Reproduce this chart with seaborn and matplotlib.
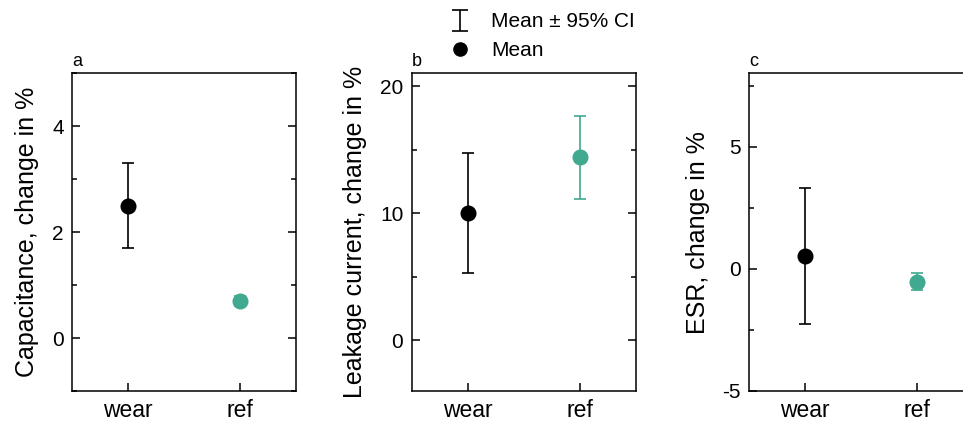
import matplotlib
matplotlib.use("Agg")
import matplotlib.pyplot as plt
import seaborn as sns
import pandas as pd
import numpy as np
from matplotlib.lines import Line2D
from matplotlib.ticker import MultipleLocator

# dados
grupos = ["wear", "ref"]
cap_media = [2.5, 0.7]
cap_lo = [1.7, 0.6]
cap_hi = [3.3, 0.8]
leak_media = [10.0, 14.4]
leak_lo = [5.3, 11.1]
leak_hi = [14.75, 17.65]
esr_media = [0.53, -0.53]
esr_lo = [-2.24, -0.85]
esr_hi = [3.29, -0.18]

cores = {"wear": "#000000", "ref": "#40a98f"}

sns.set_theme(style="ticks")
plt.rcParams["font.family"] = ["Liberation Sans", "DejaVu Sans"]
plt.rcParams["axes.linewidth"] = 1.1
plt.rcParams["axes.unicode_minus"] = False
plt.rcParams["text.color"] = "black"
plt.rcParams["axes.labelcolor"] = "black"
plt.rcParams["xtick.color"] = "black"
plt.rcParams["ytick.color"] = "black"

fig = plt.figure(figsize=(9.63, 4.22), dpi=100)

paineis = [
    ("a", "Capacitance, change in %", cap_media, cap_lo, cap_hi, (-1, 5), 2, 1, 0.0748),
    ("b", "Leakage current, change in %", leak_media, leak_lo, leak_hi, (-4, 21), 10, 5, 0.4275),
    ("c", "ESR, change in %", esr_media, esr_lo, esr_hi, (-5, 8), 5, 2.5, 0.7778),
]

eb_legenda = None
for letra, ylabel, media, lo, hi, ylim, maj, mnr, esq in paineis:
    ax = fig.add_axes([esq, 0.0735, 0.2326, 0.7528])
    df = pd.DataFrame({"grupo": grupos, "media": media, "lo": lo, "hi": hi})
    for i, row in df.iterrows():
        ax.errorbar(i, row["media"],
                    yerr=[[row["media"] - row["lo"]], [row["hi"] - row["media"]]],
                    fmt="none", ecolor=cores[row["grupo"]], elinewidth=1.2,
                    capsize=4.5, capthick=1.2, zorder=2)
    if eb_legenda is None:
        # so para a legenda (caps mais largos)
        eb_legenda = ax.errorbar([np.nan], [np.nan], yerr=[1], fmt="none",
                                 ecolor="black", elinewidth=1.2, capsize=6, capthick=1.2)
    sns.pointplot(data=df, x="grupo", y="media", hue="grupo", palette=cores,
                  errorbar=None, linestyle="none", markers="o", markersize=9.5,
                  legend=False, ax=ax, zorder=3)
    ax.set_xlim(-0.5, 1.5)
    ax.set_ylim(*ylim)
    ax.yaxis.set_major_locator(MultipleLocator(maj))
    ax.yaxis.set_minor_locator(MultipleLocator(mnr))
    ax.set_xlabel("")
    ax.set_ylabel(ylabel, fontsize=18, labelpad=9)
    ax.tick_params(axis="both", which="both", direction="in", width=1.1,
                   left=True, right=True, bottom=True, top=False)
    ax.tick_params(axis="both", which="major", length=6)
    ax.tick_params(axis="y", which="minor", length=3.5)
    ax.tick_params(axis="x", which="minor", bottom=False)
    ax.tick_params(axis="x", labelsize=16.5, pad=6)
    ax.tick_params(axis="y", labelsize=15, pad=6)
    for s in ax.spines.values():
        s.set_visible(True)
        s.set_color("black")
    ax.text(0.0, 1.01, letra, transform=ax.transAxes, fontsize=13,
            ha="left", va="bottom")

handles = [eb_legenda, Line2D([], [], marker="o", color="black", linestyle="none", markersize=9.5)]
fig.legend(handles, ["Mean ± 95% CI", "Mean"], loc="upper left",
           bbox_to_anchor=(0.445, 1.015), frameon=False, fontsize=15,
           handlelength=1.2, handletextpad=0.9, labelspacing=0.45)

fig.savefig("out.png", dpi=100)
